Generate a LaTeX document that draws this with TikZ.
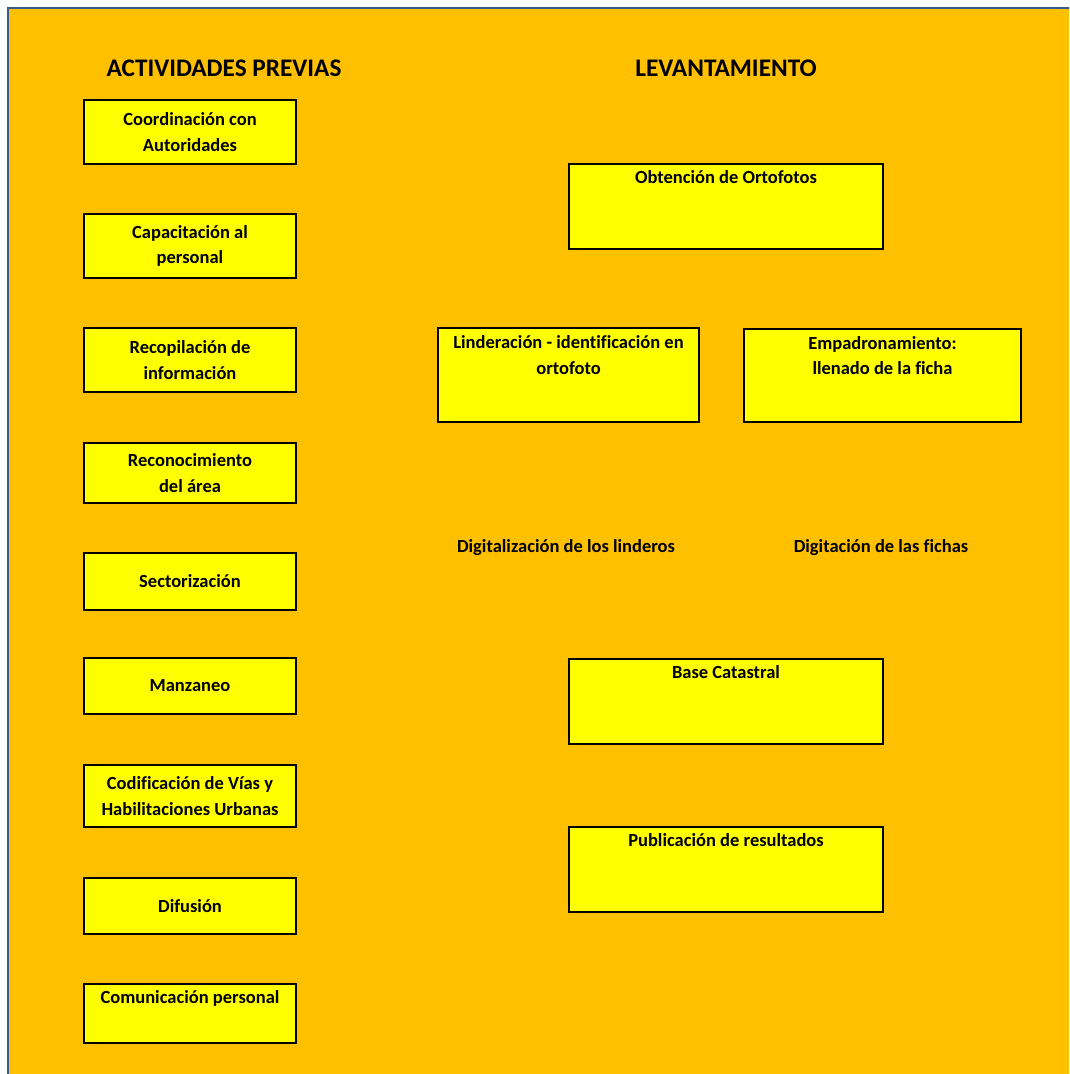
\documentclass[tikz,border=0pt]{standalone}
\usepackage{fontspec}
\setmainfont{Carlito}[Ligatures=NoCommon]
\definecolor{pagebg}{HTML}{FFC000}
\definecolor{boxfill}{HTML}{FFFF00}
\definecolor{frameblue}{HTML}{385D8A}
\begin{document}
\begin{tikzpicture}[x=1pt,y=-1pt,
  every node/.style={font=\bfseries\fontsize{18.5}{25.5}\selectfont, inner sep=0pt, align=center},
  stepbox/.style={draw=black, line width=2pt, fill=boxfill, minimum width=#1},
  stepbox/.default=212pt,
  heading/.style={font=\bfseries\fontsize{25.3}{28}\selectfont},
  caption/.style={}
]
% page and outer frame
\useasboundingbox (0,0) rectangle (1069,1074);
\clip (0,0) rectangle (1069,1074);
\fill[white] (0,0) rectangle (1069,1074);
\fill[pagebg] (8,8) rectangle (1080,1080);
\draw[frameblue, line width=2pt] (8,1080) -- (8,8) -- (1080,8);

% headings
\node[heading] (hprev) at (224,68) {ACTIVIDADES PREVIAS};
\node[heading] (hlev)  at (726,68) {LEVANTAMIENTO};

% preliminary activities
\node[stepbox, minimum height=64pt] (coord) at (190,132) {Coordinación con\\Autoridades};
\node[stepbox, minimum height=64pt] (capac) at (190,246) {Capacitación al\\personal};
\node[stepbox, minimum height=64pt] (recop) at (190,360) {Recopilación de\\información};
\node[stepbox, minimum height=60pt] (recon) at (190,473) {Reconocimiento\\del área};
\node[stepbox, minimum height=57pt] (sector) at (190,581.5) {Sectorización};
\node[stepbox, minimum height=56pt] (manz) at (190,686) {Manzaneo};
\node[stepbox, minimum height=62pt] (codif) at (190,796) {Codificación de Vías y\\Habilitaciones Urbanas};
\node[stepbox, minimum height=56pt] (difus) at (190,906) {Difusión};
\node[stepbox, minimum height=59pt] (comun) at (190,1013.5) {};
\node (comunt) at ([yshift=-15pt]comun.north) {Comunicación personal};

% survey stages
\node[stepbox=314pt, minimum height=85pt] (orto) at (726,206.5) {};
\node (ortot) at ([yshift=-14.5pt]orto.north) {Obtención de Ortofotos};

\node[stepbox=261pt, minimum height=94pt] (linder) at (568.5,375) {};
\node (lindert) at ([yshift=-28pt]linder.north) {Linderación - identificación en\\ortofoto};

\node[stepbox=277pt, minimum height=93pt] (empad) at (882.5,375.5) {};
\node (empadt) at ([yshift=-27.5pt]empad.north) {Empadronamiento:\\llenado de la ficha};

\node[caption] (digl) at (566,548) {Digitalización de los linderos};
\node[caption] (digf) at (881,548) {Digitación de las fichas};

\node[stepbox=314pt, minimum height=85pt] (base) at (726,701.5) {};
\node (baset) at ([yshift=-14.5pt]base.north) {Base Catastral};

\node[stepbox=314pt, minimum height=85pt] (publ) at (726,869.5) {};
\node (publt) at ([yshift=-14.5pt]publ.north) {Publicación de resultados};
\end{tikzpicture}
\end{document}
